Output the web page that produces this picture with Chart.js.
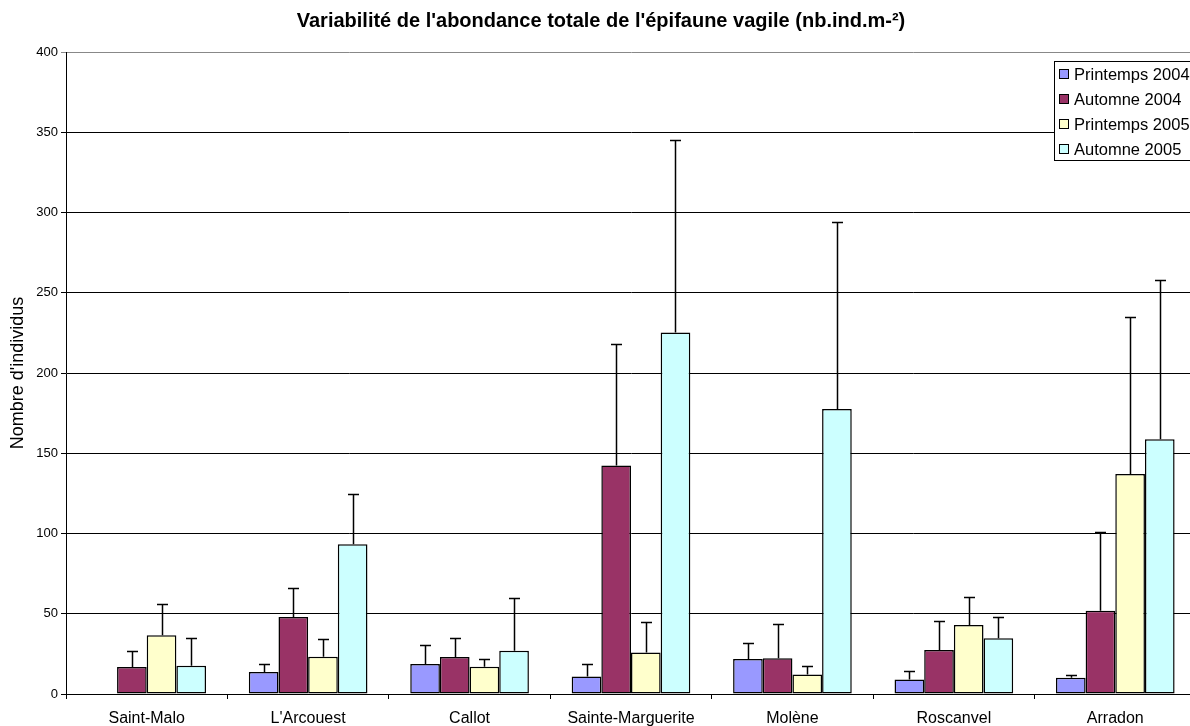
<!DOCTYPE html>
<html>
<head>
<meta charset="utf-8">
<script src="https://cdn.jsdelivr.net/npm/chart.js@4.4.1/dist/chart.umd.min.js"></script>
<style>
  html, body { margin: 0; padding: 0; background: #fff; }
  #wrap { width: 1190px; height: 726px; position: relative; overflow: hidden; }
  #c { position: absolute; left: 0; top: 0; }
</style>
</head>
<body>
<div id="wrap"><canvas id="c" width="1196" height="726"></canvas></div>
<script>
// ---- Data ----
const chartTitle = "Variabilité de l'abondance totale de l'épifaune vagile (nb.ind.m-²)";
const yAxisTitle = "Nombre d'individus";
const sites = ["Saint-Malo", "L'Arcouest", "Callot", "Sainte-Marguerite", "Molène", "Roscanvel", "Arradon"];
const seriesNames = ["Printemps 2004", "Automne 2004", "Printemps 2005", "Automne 2005"];
const seriesColors = ["#9999FF", "#993366", "#FFFFCC", "#CCFFFF"];

const printemps2004 = [null, 13.7, 18.7, 10.9, 21.8, 9.1, 10.2];
const automne2004   = [16.8, 48.0, 23.0, 142.4, 22.2, 27.4, 51.9];
const printemps2005 = [36.6, 23.2, 17.0, 25.8, 12.1, 43.0, 137.0];
const automne2005   = [17.6, 93.3, 27.0, 225.3, 177.5, 34.7, 158.8];

// upper error (standard deviation) for each bar
const errPrintemps2004 = [null, 5.2, 11.6, 7.9, 10.2, 5.4, 1.6];
const errAutomne2004   = [10.0, 18.0, 12.0, 75.9, 21.5, 18.1, 49.2];
const errPrintemps2005 = [19.4, 11.3, 4.8, 19.2, 5.2, 17.6, 97.8];
const errAutomne2005   = [17.5, 31.5, 33.0, 119.9, 116.3, 13.5, 99.1];

const yTicks = [0, 50, 100, 150, 200, 250, 300, 350, 400];

const seriesValues = [printemps2004, automne2004, printemps2005, automne2005];
const seriesErrors = [errPrintemps2004, errAutomne2004, errPrintemps2005, errAutomne2005];

const FONT = '"Liberation Sans", Arial, sans-serif';

const datasets = seriesNames.map((name, i) => ({
  label: name,
  data: seriesValues[i],
  errors: seriesErrors[i],
  backgroundColor: seriesColors[i],
  borderColor: '#000000',
  borderWidth: 1.5,
  borderSkipped: false,
  categoryPercentage: 0.735,
  barPercentage: 1.0
}));

const errorBarPlugin = {
  id: 'errorBars',
  afterDatasetsDraw(chart) {
    const ctx = chart.ctx;
    const y = chart.scales.y;
    ctx.save();
    ctx.strokeStyle = '#000';
    ctx.lineWidth = 1.5;
    chart.data.datasets.forEach((ds, i) => {
      const meta = chart.getDatasetMeta(i);
      meta.data.forEach((bar, j) => {
        const v = ds.data[j], e = ds.errors[j];
        if (v == null || e == null) return;
        const x = Math.round(bar.x) + 0.5;
        const y0 = y.getPixelForValue(v);
        const y1 = Math.round(y.getPixelForValue(v + e)) + 0.5;
        ctx.beginPath();
        ctx.moveTo(x, y0);
        ctx.lineTo(x, y1);
        ctx.moveTo(x - 5.5, y1);
        ctx.lineTo(x + 5.5, y1);
        ctx.stroke();
      });
    });
    ctx.restore();
  }
};

const decorPlugin = {
  id: 'decor',
  afterDraw(chart) {
    const ctx = chart.ctx;
    ctx.save();
    // title
    ctx.fillStyle = '#000';
    ctx.font = 'bold 20px ' + FONT;
    ctx.textAlign = 'center';
    ctx.textBaseline = 'middle';
    ctx.fillText(chartTitle, 601, 21);
    // legend
    const lx = 1054.5, ly = 61.5, lw = 160, lh = 99;
    ctx.fillStyle = '#fff';
    ctx.fillRect(lx, ly, lw, lh);
    ctx.strokeStyle = '#000';
    ctx.lineWidth = 1;
    ctx.strokeRect(lx, ly, lw, lh);
    ctx.font = '16.5px ' + FONT;
    ctx.textAlign = 'left';
    ctx.textBaseline = 'middle';
    chart.data.datasets.forEach((ds, i) => {
      const cy = 74 + i * 25;
      ctx.fillStyle = ds.backgroundColor;
      ctx.fillRect(1059.5, cy - 4.5, 9, 9);
      ctx.strokeRect(1059.5, cy - 4.5, 9, 9);
      ctx.fillStyle = '#000';
      ctx.fillText(ds.label, 1074, cy + 1);
    });
    ctx.restore();
  }
};

new Chart(document.getElementById('c'), {
  type: 'bar',
  data: { labels: sites, datasets },
  options: {
    responsive: false,
    animation: false,
    layout: { padding: { top: 52, right: 0, left: 0, bottom: 0 } },
    plugins: {
      legend: { display: false },
      title: { display: false },
      tooltip: { enabled: false }
    },
    scales: {
      x: {
        grid: { drawOnChartArea: false, drawTicks: true, tickLength: 5, color: '#000', offset: true },
        border: { display: true, color: '#000', width: 1 },
        ticks: { color: '#000', font: { family: FONT, size: 16 }, padding: 10, maxRotation: 0, autoSkip: false },
        afterFit(scale) { scale.height = 32; }
      },
      y: {
        min: 0, max: 400,
        afterBuildTicks(scale) { scale.ticks = yTicks.map(v => ({ value: v })); },
        grid: {
          color: (c) => (c.tick && c.tick.value === 400) ? '#888' : '#000',
          lineWidth: 1, drawTicks: true, tickLength: 5
        },
        border: { display: true, color: '#000', width: 1 },
        ticks: { color: '#000', font: { family: FONT, size: 13 }, padding: 3 },
        title: { display: true, text: yAxisTitle, color: '#000', font: { family: FONT, size: 18 }, padding: { top: 7, bottom: 0 } },
        afterFit(scale) { scale.width = 66; }
      }
    }
  },
  plugins: [errorBarPlugin, decorPlugin]
});
</script>
</body>
</html>
